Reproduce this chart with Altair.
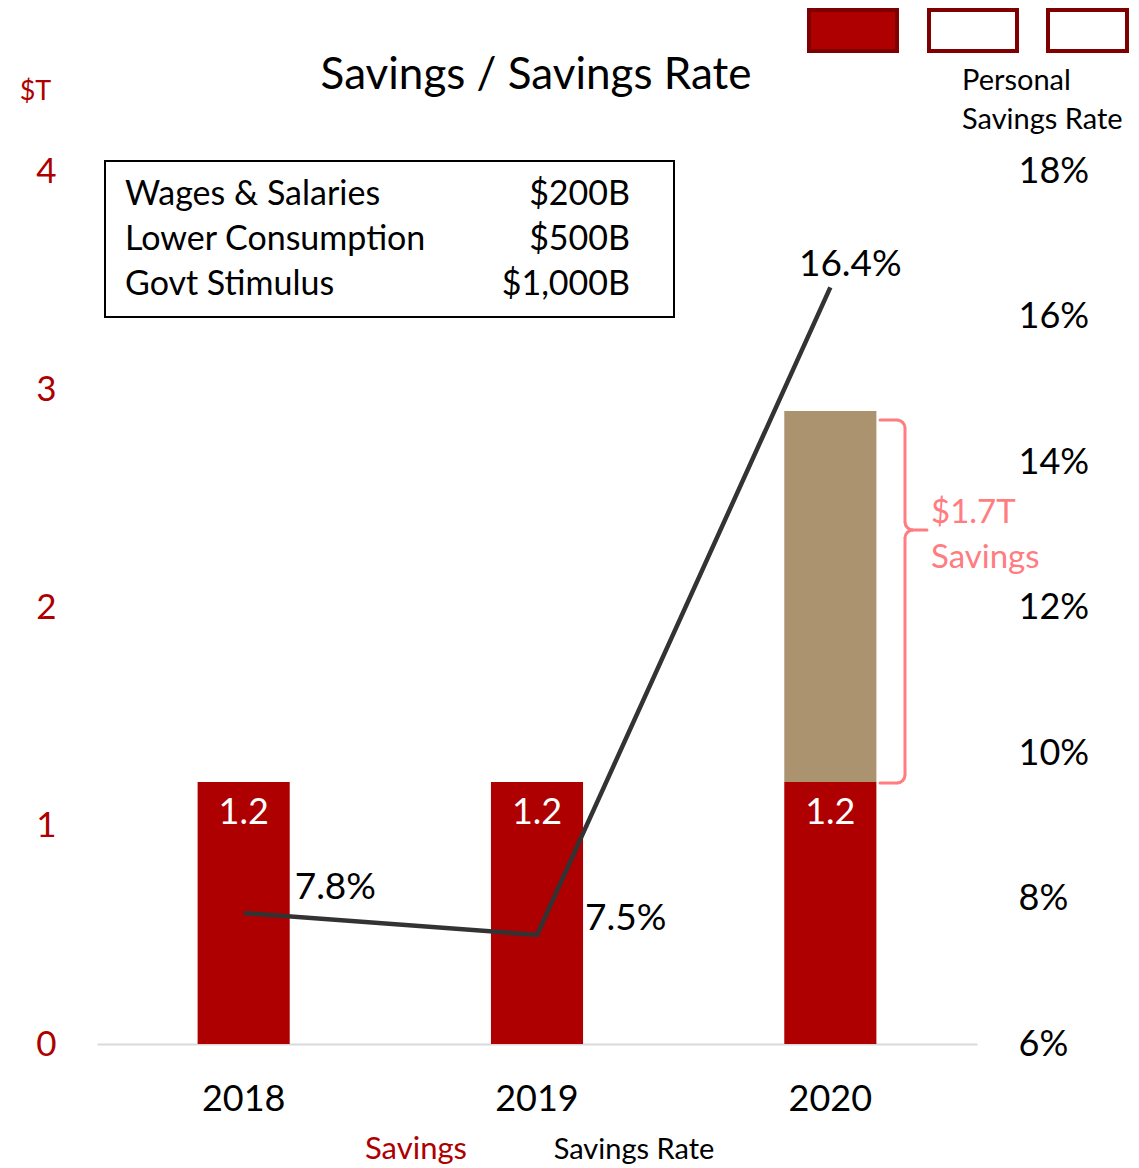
import math
import altair as alt
import pandas as pd

# ---------------- data ----------------
years = ["2018", "2019", "2020"]
savings = [1.2, 1.2, 1.2]            # $T, red bars
extra_savings = [0.0, 0.0, 1.7]      # $T, extra savings (tan) in 2020
savings_rate = [7.8, 7.5, 16.4]      # %, line

left_ticks = [0, 1, 2, 3, 4]
right_ticks = [6, 8, 10, 12, 14, 16, 18]

title_text = "Savings / Savings Rate"
left_unit = "$T"
box_labels = ["Wages & Salaries", "Lower Consumption", "Govt Stimulus"]
box_values = ["$200B", "$500B", "$1,000B"]
brace_label = ["$1.7T", "Savings"]
right_title = ["Personal", "Savings Rate"]
bottom_legend = ["Savings", "Savings Rate"]

df = pd.DataFrame({"year": years, "savings": savings, "extra": extra_savings, "rate": savings_rate})
df["total"] = df["savings"] + df["extra"]

# ---------------- styles ----------------
FONT = "Lato"
RED = "#ae0000"
TAN = "#ab9370"
DARKRED = "#7f0000"
PINK = "#ff7c80"
LINE = "#333333"
W, H = 880, 873
BAR_W = alt.RelativeBandSize(0.314)

dummy = alt.Data(values=[{"d": 0}])

x_enc = alt.X(
    "year:N", sort=years,
    scale=alt.Scale(paddingInner=0, paddingOuter=0),
    axis=alt.Axis(title=None, labelFont=FONT, labelFontSize=36, labelColor="black",
                  labelAngle=0, ticks=False, tickSize=0, labelPadding=55,
                  labelBaseline="middle", domain=True, domainColor="#d9d9d9",
                  domainWidth=2, grid=False),
)

left_scale = alt.Scale(domain=[0, 4], nice=False, zero=True)
right_scale = alt.Scale(domain=[6, 18], nice=False, zero=False)

left_axis = alt.Axis(
    title=left_unit, values=left_ticks, orient="left", labelFont=FONT, labelFontSize=35,
    labelColor=RED, ticks=False, tickSize=0, labelPadding=41, domain=False, grid=False,
    labelFlush=False, labelOverlap=False, titleAngle=0, titleX=-62, titleY=-80,
    titleAlign="center", titleBaseline="middle", titleFont=FONT, titleFontSize=27,
    titleColor=RED, titleFontWeight="normal",
)
right_axis = alt.Axis(
    title=None, values=right_ticks, orient="right", labelExpr="datum.value + '%'",
    labelFont=FONT, labelFontSize=36, labelColor="black", ticks=False, tickSize=0,
    labelPadding=41, domain=False, grid=False, labelFlush=False, labelOverlap=False,
)

# ---------------- bars ----------------
bars = alt.Chart(df).mark_bar(color=RED, width=BAR_W).encode(
    x=x_enc, y=alt.Y("savings:Q", scale=left_scale, axis=left_axis)
)
bars_extra = alt.Chart(df).transform_filter("datum.extra > 0").mark_bar(color=TAN, width=BAR_W).encode(
    x=x_enc, y=alt.Y("total:Q", scale=left_scale, axis=None), y2="savings:Q"
)
bar_labels = alt.Chart(df).mark_text(font=FONT, fontSize=36, color="white", baseline="middle", dy=31).encode(
    x=x_enc, y=alt.Y("savings:Q", scale=left_scale, axis=None),
    text=alt.Text("savings:Q", format=".1f"),
)

# ---------------- line ----------------
line = alt.Chart(df).mark_line(color=LINE, strokeWidth=4.5).encode(
    x=x_enc, y=alt.Y("rate:Q", scale=right_scale, axis=right_axis)
)


def rate_label(year, dx, dy, align):
    return alt.Chart(df).transform_filter(f"datum.year == '{year}'").transform_calculate(
        label="format(datum.rate, '.1f') + '%'"
    ).mark_text(
        font=FONT, fontSize=37, color="black", align=align, baseline="middle", dx=dx, dy=dy
    ).encode(
        x=x_enc, y=alt.Y("rate:Q", scale=right_scale, axis=None),
        text=alt.Text("label:N"),
    )


# ---------------- decorations (pixel positions relative to plot origin) ----------------


def txt(text, x, y, size, color="black", align="left", baseline="middle", line_height=None):
    kw = dict(text=text, font=FONT, fontSize=size, color=color, align=align, baseline=baseline)
    if line_height is not None:
        kw["lineHeight"] = line_height
    return alt.Chart(dummy).mark_text(**kw).encode(x=alt.value(x), y=alt.value(y))


def box(x, x2, y, y2, fill, stroke, sw, fill_opacity=1):
    return alt.Chart(dummy).mark_rect(fill=fill, fillOpacity=fill_opacity, stroke=stroke, strokeWidth=sw).encode(
        x=alt.value(x), x2=alt.value(x2), y=alt.value(y), y2=alt.value(y2)
    )


def rule(x, x2, y, y2):
    return alt.Chart(dummy).mark_rule(color=PINK, strokeWidth=3, strokeCap="round").encode(
        x=alt.value(x), x2=alt.value(x2), y=alt.value(y), y2=alt.value(y2)
    )


def corner(x, y, t1, t2):
    return alt.Chart(dummy).mark_arc(color=PINK, radius=9.5, radius2=6.5, theta=t1, theta2=t2).encode(
        x=alt.value(x), y=alt.value(y)
    )


PI = math.pi
decor = [
    txt(title_text, 439, -95, 44, align="center"),
    # info box
    box(8, 577, -10, 146, "white", "black", 2, 0),
    txt(box_labels, 28, 24 - 0.49 * 34, 34, baseline="top", line_height=45),
    txt(box_values, 533, 24 - 0.49 * 34, 34, align="right", baseline="top", line_height=45),
    # top-right legend swatches
    box(712, 800, -161, -120, RED, DARKRED, 4),
    box(832, 920, -161, -120, "white", DARKRED, 4),
    box(951, 1030, -161, -120, "white", DARKRED, 4),
    txt(right_title, 865, -90 - 0.49 * 29, 29, baseline="top", line_height=39),
    # brace
    rule(783, 800, 249, 249),
    corner(800, 257, 0, PI / 2),
    rule(808, 808, 257, 351),
    corner(816, 351, PI, 3 * PI / 2),
    rule(816, 830, 359, 359),
    corner(816, 367, 3 * PI / 2, 2 * PI),
    rule(808, 808, 367, 604),
    corner(800, 604, PI / 2, PI),
    rule(783, 800, 612, 612),
    txt(brace_label, 834, 342 - 0.49 * 33, 33, color=PINK, baseline="top", line_height=45),
    # bottom legend
    txt(bottom_legend[0], 319, 979, 31, color=RED, align="center"),
    txt(bottom_legend[1], 537, 979, 29, color="black", align="center"),
]

layers = [
    bars, bars_extra, bar_labels,
    line,
    rate_label("2018", 51, -25, "left"),
    rate_label("2019", 48, -16, "left"),
    rate_label("2020", 20, -22, "center"),
] + decor

chart = alt.layer(*layers).resolve_scale(y="independent").properties(
    width=W, height=H,
    padding={"left": 89, "top": 163, "right": 154, "bottom": 124},
    autosize=alt.AutoSizeParams(type="none"),
).configure_view(stroke=None)

chart.save("out.html", embed_options={"renderer": "svg", "actions": False})
